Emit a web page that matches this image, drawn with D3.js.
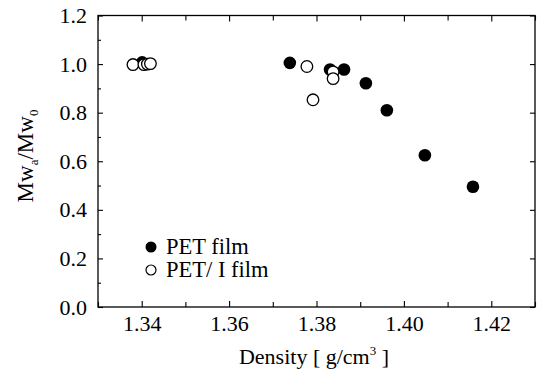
<!DOCTYPE html>
<html>
<head>
<meta charset="utf-8">
<script src="https://cdn.jsdelivr.net/npm/d3@7"></script>
</head>
<body style="margin:0; background:#fff">
<div id="vis"></div>
<script>
// Data
const PET_DENSITY = [1.3401, 1.3739, 1.3831, 1.3863, 1.3913, 1.3961, 1.4048, 1.4158];
const PET_RATIO   = [1.007, 1.005, 0.978, 0.978, 0.921, 0.810, 0.625, 0.495];

const PETI_DENSITY = [1.3380, 1.3405, 1.3413, 1.3420, 1.3778, 1.3838, 1.3838, 1.3792];
const PETI_RATIO   = [0.998, 0.998, 1.000, 1.002, 0.990, 0.968, 0.940, 0.853];

const X_TICKS = [1.34, 1.36, 1.38, 1.40, 1.42];
const X_MINOR = [1.33, 1.35, 1.37, 1.39, 1.41, 1.43];
const Y_TICKS = [0.0, 0.2, 0.4, 0.6, 0.8, 1.0, 1.2];
const Y_MINOR = [0.1, 0.3, 0.5, 0.7, 0.9, 1.1];

const LEGEND_LABELS = ["PET film", "PET/ I film"];

const FONT = "Liberation Serif";

// Frame
const FRAME_WIDTH = 537;
const FRAME_HEIGHT = 376;
const MARGINS = {left: 98, right: 2, top: 15.5, bottom: 69};
const VIS_WIDTH = FRAME_WIDTH - MARGINS.left - MARGINS.right;
const VIS_HEIGHT = FRAME_HEIGHT - MARGINS.top - MARGINS.bottom;

const FRAME = d3.select("#vis")
                .append("svg")
                .attr("width", FRAME_WIDTH)
                .attr("height", FRAME_HEIGHT)
                .attr("font-family", FONT);

const PLOT = FRAME.append("g")
                  .attr("transform", "translate(" + MARGINS.left + "," + MARGINS.top + ")");

const X_SCALE = d3.scaleLinear().domain([1.33, 1.43]).range([0, VIS_WIDTH]);
const Y_SCALE = d3.scaleLinear().domain([0, 1.2]).range([VIS_HEIGHT, 0]);

// Axes with inward ticks on all four sides
function styleAxis(g) {
  g.attr("font-family", FONT).attr("font-size", 22);
  g.select(".domain").remove();
  g.selectAll("line").attr("stroke", "#000").attr("stroke-width", 1.1);
  g.selectAll("text").attr("fill", "#000").attr("font-family", FONT);
}

PLOT.append("g")
    .attr("transform", "translate(0," + VIS_HEIGHT + ")")
    .call(d3.axisBottom(X_SCALE).tickValues(X_TICKS).tickFormat(d3.format(".2f")).tickSizeInner(-6).tickSizeOuter(0).tickPadding(8))
    .call(styleAxis);
PLOT.append("g")
    .attr("transform", "translate(0," + VIS_HEIGHT + ")")
    .call(d3.axisBottom(X_SCALE).tickValues(X_MINOR).tickFormat("").tickSizeInner(-5).tickSizeOuter(0))
    .call(styleAxis);
PLOT.append("g")
    .call(d3.axisTop(X_SCALE).tickValues(X_TICKS).tickFormat("").tickSizeInner(-6).tickSizeOuter(0))
    .call(styleAxis);
PLOT.append("g")
    .call(d3.axisTop(X_SCALE).tickValues(X_MINOR).tickFormat("").tickSizeInner(-5).tickSizeOuter(0))
    .call(styleAxis);

PLOT.append("g")
    .call(d3.axisLeft(Y_SCALE).tickValues(Y_TICKS).tickFormat(d3.format(".1f")).tickSizeInner(-5).tickSizeOuter(0).tickPadding(11))
    .call(styleAxis);
PLOT.append("g")
    .call(d3.axisLeft(Y_SCALE).tickValues(Y_MINOR).tickFormat("").tickSizeInner(-3).tickSizeOuter(0))
    .call(styleAxis);
PLOT.append("g")
    .attr("transform", "translate(" + VIS_WIDTH + ",0)")
    .call(d3.axisRight(Y_SCALE).tickValues(Y_TICKS).tickFormat("").tickSizeInner(-5).tickSizeOuter(0))
    .call(styleAxis);

// Frame box
PLOT.append("rect")
    .attr("x", 0).attr("y", 0)
    .attr("width", VIS_WIDTH).attr("height", VIS_HEIGHT)
    .attr("fill", "none")
    .attr("stroke", "#000")
    .attr("stroke-width", 1.3);

// Points
const PET = PET_DENSITY.map((d, i) => ({x: d, y: PET_RATIO[i]}));
const PETI = PETI_DENSITY.map((d, i) => ({x: d, y: PETI_RATIO[i]}));

PLOT.append("g").selectAll("circle")
    .data(PET)
    .enter()
    .append("circle")
      .attr("cx", (d) => X_SCALE(d.x))
      .attr("cy", (d) => Y_SCALE(d.y))
      .attr("r", 6.3)
      .attr("fill", "#000");

PLOT.append("g").selectAll("circle")
    .data(PETI)
    .enter()
    .append("circle")
      .attr("cx", (d) => X_SCALE(d.x))
      .attr("cy", (d) => Y_SCALE(d.y))
      .attr("r", 5.8)
      .attr("fill", "#fff")
      .attr("stroke", "#000")
      .attr("stroke-width", 1.3);

// Legend
const LEGEND = FRAME.append("g");
LEGEND_LABELS.forEach((lab, i) => {
  const y = 247 + i * 23;
  LEGEND.append("circle")
        .attr("cx", 151).attr("cy", y)
        .attr("r", i === 0 ? 5.5 : 5)
        .attr("fill", i === 0 ? "#000" : "#fff")
        .attr("stroke", "#000")
        .attr("stroke-width", i === 0 ? 0 : 1.2);
  LEGEND.append("text")
        .attr("x", 166).attr("y", y + 7)
        .attr("font-family", FONT)
        .attr("font-size", 22.5)
        .text(lab);
});

// Axis titles
const XT = FRAME.append("text")
     .attr("x", 314).attr("y", 364)
     .attr("text-anchor", "middle")
     .attr("font-family", FONT)
     .attr("font-size", 22);
XT.append("tspan").text("Density [ g/cm");
XT.append("tspan").attr("font-size", 13).attr("dy", -9).text("3");
XT.append("tspan").attr("dy", 9).text(" ]");

const YT = FRAME.append("text")
     .attr("transform", "translate(33,156) rotate(-90)")
     .attr("text-anchor", "middle")
     .attr("font-family", FONT)
     .attr("font-size", 23);
YT.append("tspan").text("Mw");
YT.append("tspan").attr("font-size", 13).attr("dy", 5).text("a");
YT.append("tspan").attr("dy", -5).text("/Mw");
YT.append("tspan").attr("font-size", 13).attr("dy", 5).text("0");
</script>
</body>
</html>
